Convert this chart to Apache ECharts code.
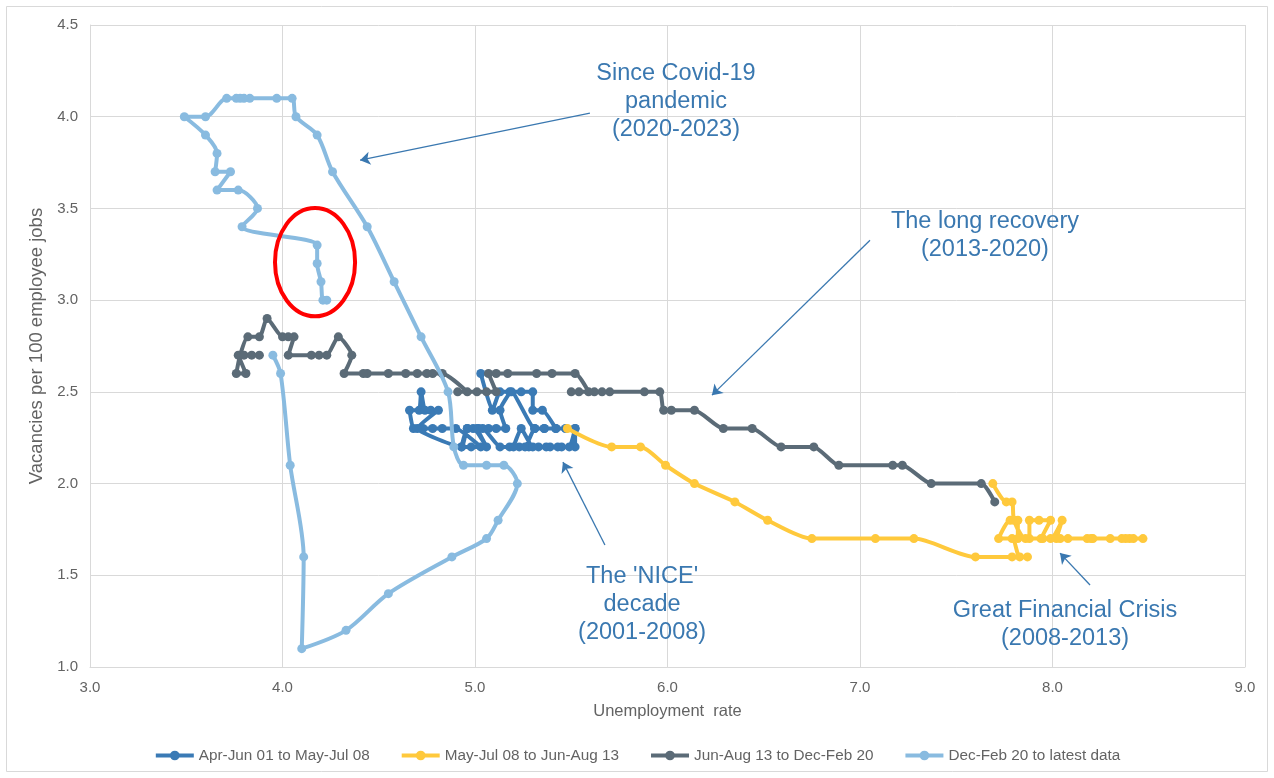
<!DOCTYPE html>
<html>
<head>
<meta charset="utf-8">
<script src="https://cdn.jsdelivr.net/npm/echarts@6/dist/echarts.min.js"></script>
<style>
  html, body { margin: 0; padding: 0; background: #ffffff; }
  #chart { width: 1274px; height: 778px; }
</style>
</head>
<body>
<div id="chart"></div>
<script>
// Axis ticks
const unemploymentTicks = [3, 4, 5, 6, 7, 8, 9];
const vacancyTicks = [1.0, 1.5, 2.0, 2.5, 3.0, 3.5, 4.0, 4.5];

// Series names (legend)
const seriesNames = [
  'Apr-Jun 01 to May-Jul 08',
  'May-Jul 08 to Jun-Aug 13',
  'Jun-Aug 13 to Dec-Feb 20',
  'Dec-Feb 20 to latest data'
];

// [unemployment rate %, vacancies per 100 employee jobs]
const period2001to2008 = [
  [5.03, 2.6], [5.09, 2.4], [5.13, 2.5], [5.18, 2.5], [5.24, 2.5], [5.30, 2.5],
  [5.30, 2.4], [5.35, 2.4], [5.42, 2.3], [5.36, 2.3], [5.31, 2.3], [5.19, 2.5],
  [5.13, 2.4], [5.16, 2.3], [5.11, 2.3], [5.07, 2.3], [5.02, 2.3], [4.96, 2.3],
  [4.93, 2.2], [4.98, 2.2], [5.03, 2.2], [4.90, 2.3], [4.83, 2.3], [4.78, 2.3],
  [4.73, 2.3], [4.68, 2.3], [4.66, 2.4], [4.71, 2.4], [4.72, 2.5], [4.74, 2.4],
  [4.77, 2.4], [4.81, 2.4], [4.70, 2.3], [4.93, 2.2], [4.96, 2.3], [4.99, 2.3],
  [5.06, 2.2], [5.01, 2.3], [5.04, 2.3], [5.13, 2.2], [5.18, 2.2], [5.23, 2.2],
  [5.28, 2.2], [5.33, 2.2], [5.39, 2.2], [5.45, 2.2], [5.52, 2.2], [5.52, 2.3],
  [5.47, 2.3], [5.42, 2.3], [5.36, 2.3], [5.31, 2.3], [5.26, 2.2], [5.20, 2.2],
  [5.24, 2.3], [5.30, 2.2], [5.37, 2.2], [5.43, 2.2], [5.49, 2.2], [5.52, 2.3]
];

const period2008to2013 = [
  [5.48, 2.3], [5.71, 2.2], [5.86, 2.2], [5.99, 2.1], [6.14, 2.0], [6.35, 1.9],
  [6.52, 1.8], [6.75, 1.7], [7.08, 1.7], [7.28, 1.7], [7.60, 1.6], [7.79, 1.6],
  [7.87, 1.6], [7.83, 1.6], [7.79, 1.7], [7.72, 1.7], [7.78, 1.8], [7.82, 1.8],
  [7.82, 1.7], [7.88, 1.7], [7.88, 1.8], [7.93, 1.8], [7.99, 1.8], [7.94, 1.7],
  [7.99, 1.7], [8.05, 1.8], [8.02, 1.7], [8.08, 1.7], [8.18, 1.7], [8.21, 1.7],
  [8.30, 1.7], [8.36, 1.7], [8.40, 1.7], [8.42, 1.7], [8.47, 1.7], [8.38, 1.7],
  [8.20, 1.7], [8.04, 1.7], [7.95, 1.7], [7.86, 1.7], [7.80, 1.8], [7.79, 1.9],
  [7.76, 1.9], [7.69, 2.0]
];

const period2013to2020 = [
  [7.70, 1.9], [7.63, 2.0], [7.37, 2.0], [7.22, 2.1], [7.17, 2.1], [6.89, 2.1],
  [6.76, 2.2], [6.59, 2.2], [6.44, 2.3], [6.29, 2.3], [6.14, 2.4], [6.02, 2.4],
  [5.98, 2.4], [5.96, 2.5], [5.88, 2.5], [5.70, 2.5], [5.66, 2.5], [5.62, 2.5],
  [5.54, 2.5], [5.50, 2.5], [5.59, 2.5], [5.52, 2.6], [5.40, 2.6], [5.32, 2.6],
  [5.17, 2.6], [5.11, 2.6], [5.07, 2.6], [5.11, 2.5], [5.06, 2.5], [5.01, 2.5],
  [4.91, 2.5], [4.96, 2.5], [4.83, 2.6], [4.78, 2.6], [4.75, 2.6], [4.70, 2.6],
  [4.64, 2.6], [4.55, 2.6], [4.44, 2.6], [4.42, 2.6], [4.32, 2.6], [4.36, 2.7],
  [4.29, 2.8], [4.23, 2.7], [4.19, 2.7], [4.15, 2.7], [4.03, 2.7], [4.06, 2.8],
  [4.03, 2.8], [4.00, 2.8], [3.92, 2.9], [3.88, 2.8], [3.82, 2.8], [3.78, 2.7],
  [3.76, 2.6], [3.81, 2.6], [3.77, 2.7], [3.80, 2.7], [3.84, 2.7], [3.88, 2.7]
];

const period2020toLatest = [
  [3.95, 2.7], [3.99, 2.6], [4.04, 2.1], [4.11, 1.6], [4.10, 1.1], [4.33, 1.2],
  [4.55, 1.4], [4.88, 1.6], [5.06, 1.7], [5.12, 1.8], [5.22, 2.0], [5.15, 2.1],
  [5.06, 2.1], [4.94, 2.1], [4.89, 2.2], [4.86, 2.5], [4.72, 2.8], [4.58, 3.1],
  [4.44, 3.4], [4.26, 3.7], [4.18, 3.9], [4.07, 4.0], [4.05, 4.1], [3.97, 4.1],
  [3.83, 4.1], [3.80, 4.1], [3.78, 4.1], [3.76, 4.1], [3.71, 4.1], [3.60, 4.0],
  [3.49, 4.0], [3.60, 3.9], [3.66, 3.8], [3.65, 3.7], [3.73, 3.7], [3.66, 3.6],
  [3.77, 3.6], [3.87, 3.5], [3.79, 3.4], [4.18, 3.3], [4.18, 3.2], [4.20, 3.1],
  [4.21, 3.0], [4.23, 3.0]
];

const seriesData = [period2001to2008, period2008to2013, period2013to2020, period2020toLatest];
const seriesColors = ['#3a7ab5', '#ffc93c', '#5b6b77', '#89bbe0'];
const seriesSmooth = [0.15, 0.25, 0.2, 0.3];

// Callout texts, anchored in data space (centre of the text block)
const callouts = [
  { text: 'Since Covid-19\npandemic\n(2020-2023)', at: [6.044, 4.084] },
  { text: 'The long recovery\n(2013-2020)', at: [7.649, 3.354] },
  { text: "The 'NICE'\ndecade\n(2001-2008)", at: [5.868, 1.343] },
  { text: 'Great Financial Crisis\n(2008-2013)', at: [8.065, 1.234] }
];
// Callout arrows: [from, to] in data space
const calloutArrows = [
  [[5.597, 4.019], [4.403, 3.763]],
  [[7.052, 3.327], [6.231, 2.482]],
  [[5.675, 1.665], [5.457, 2.117]],
  [[8.195, 1.447], [8.039, 1.621]]
];
// Highlight ring around the latest readings: centre and half-extents in data units
const highlight = { centre: [4.169, 3.207], halfX: 0.208, halfY: 0.295 };

const calloutColor = '#3a78b0';
const labelColor = '#636363';
const gridColor = '#d9d9d9';
const fontFamily = '"Liberation Sans", Arial, Helvetica, sans-serif';

const chart = echarts.init(document.getElementById('chart'), null, { renderer: 'canvas' });

const series = seriesData.map((data, i) => ({
  name: seriesNames[i],
  type: 'line',
  data: data,
  smooth: seriesSmooth[i],
  symbol: 'circle',
  symbolSize: 9,
  showSymbol: true,
  lineStyle: { width: 4, color: seriesColors[i] },
  itemStyle: { color: seriesColors[i] },
  emphasis: { disabled: true },
  z: 2 + i
}));

series.push({
  name: 'arrows',
  type: 'line',
  data: [],
  silent: true,
  itemStyle: { color: calloutColor },
  markLine: {
    silent: true,
    animation: false,
    symbol: ['none', 'arrow'],
    symbolSize: 10,
    itemStyle: { color: calloutColor },
    lineStyle: { color: calloutColor, width: 1.3, type: 'solid' },
    label: { show: false },
    emphasis: { disabled: true },
    data: calloutArrows.map(a => [{ coord: a[0] }, { coord: a[1] }])
  },
  z: 10
});

chart.setOption({
  animation: false,
  backgroundColor: '#ffffff',
  textStyle: { fontFamily: fontFamily },
  grid: { left: 90, right: 29, top: 25, bottom: 111, containLabel: false },
  xAxis: {
    type: 'value',
    min: unemploymentTicks[0],
    max: unemploymentTicks[unemploymentTicks.length - 1],
    interval: unemploymentTicks[1] - unemploymentTicks[0],
    name: 'Unemployment  rate',
    nameLocation: 'middle',
    nameGap: 36,
    nameTextStyle: { color: labelColor, fontSize: 16.5, fontFamily: fontFamily },
    axisLine: { show: true, lineStyle: { color: gridColor, width: 1 } },
    axisTick: { show: false },
    axisLabel: { color: labelColor, fontSize: 15, margin: 13, formatter: v => v.toFixed(1) },
    splitLine: { show: true, lineStyle: { color: gridColor, width: 1 } }
  },
  yAxis: {
    type: 'value',
    min: vacancyTicks[0],
    max: vacancyTicks[vacancyTicks.length - 1],
    interval: vacancyTicks[1] - vacancyTicks[0],
    name: 'Vacancies per 100 employee jobs',
    nameLocation: 'middle',
    nameGap: 43,
    nameTextStyle: { color: labelColor, fontSize: 18.5, fontFamily: fontFamily },
    axisLine: { show: true, lineStyle: { color: gridColor, width: 1 } },
    axisTick: { show: false },
    axisLabel: { color: labelColor, fontSize: 15, margin: 12, formatter: v => v.toFixed(1) },
    splitLine: { show: true, lineStyle: { color: gridColor, width: 1 } }
  },
  legend: {
    data: seriesNames,
    top: 743,
    left: 'center',
    itemWidth: 38,
    itemHeight: 12,
    itemGap: 30,
    lineStyle: { width: 4 },
    textStyle: { color: labelColor, fontSize: 15.3, fontFamily: fontFamily },
    selectedMode: false
  },
  series: series
});

// Callout texts, ring and chart frame, placed through the grid's coordinate system
function toPx(p) { return chart.convertToPixel({ gridIndex: 0 }, p); }
const graphics = callouts.map(c => {
  const p = toPx(c.at);
  return {
    type: 'text',
    x: p[0], y: p[1],
    silent: true,
    style: {
      text: c.text,
      fill: calloutColor,
      font: '23.5px ' + fontFamily,
      textAlign: 'center',
      textVerticalAlign: 'middle',
      lineHeight: 28
    },
    z: 20
  };
});
const c0 = toPx(highlight.centre);
const cx1 = toPx([highlight.centre[0] + highlight.halfX, highlight.centre[1] + highlight.halfY]);
graphics.push({
  type: 'ellipse',
  silent: true,
  shape: { cx: c0[0], cy: c0[1], rx: Math.abs(cx1[0] - c0[0]), ry: Math.abs(c0[1] - cx1[1]) },
  style: { fill: 'none', stroke: '#ff0000', lineWidth: 4 },
  z: 20
});
graphics.push({
  type: 'rect',
  silent: true,
  shape: { x: 6.5, y: 6.5, width: 1261, height: 765 },
  style: { fill: 'none', stroke: gridColor, lineWidth: 1 },
  z: 0
});
chart.setOption({ graphic: graphics });
</script>
</body>
</html>
